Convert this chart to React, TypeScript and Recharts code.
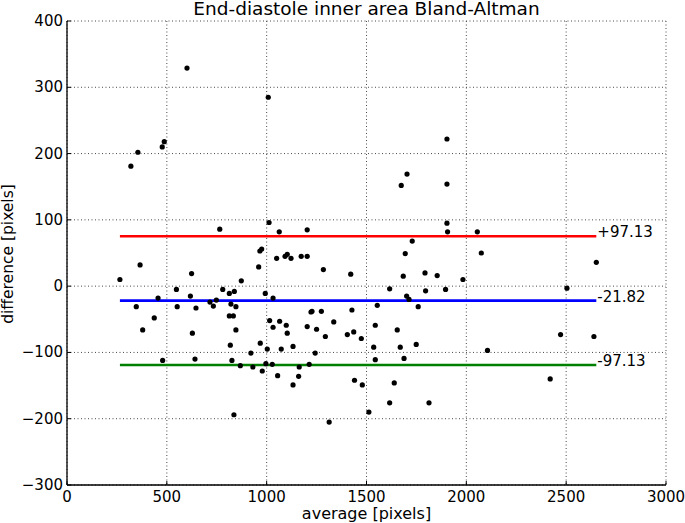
import React from 'react';
import { ScatterChart, Scatter, XAxis, YAxis, CartesianGrid, ReferenceLine } from 'recharts';

// Bland-Altman points: average vs difference, both in pixels
const averagePx = [
  265, 320, 355, 366, 347, 379, 437, 456, 479, 477, 487, 548, 552, 601, 618, 624, 628, 641, 646, 716,
  733, 748, 765, 780, 813, 813, 821, 818, 826, 833, 836, 838, 846, 846, 868, 873, 921, 931, 960, 966,
  975, 968, 978, 993, 996, 1003, 1008, 1012, 1015, 1028, 1032, 1032, 1050, 1055, 1063, 1065, 1073, 1092, 1098, 1103,
  1103, 1122, 1132, 1132, 1160, 1163, 1173, 1203, 1203, 1203, 1213, 1222, 1227, 1243, 1250, 1274, 1284, 1294, 1313, 1336,
  1404, 1421, 1427, 1436, 1440, 1474, 1479, 1512, 1536, 1544, 1544, 1554, 1616, 1616, 1639, 1654, 1669, 1674, 1684, 1688,
  1694, 1701, 1703, 1713, 1729, 1749, 1759, 1793, 1796, 1813, 1854, 1896, 1903, 1903, 1903, 1906, 1983, 2055, 2075, 2106,
  2420, 2472, 2504, 2639, 2651,
];
const differencePx = [
  10, 181, 202, 32, -31, -66, -48, -18, -112, 210, 218, -5, -31, 329, -15, 19, -71, -110, -33, -24,
  -30, -21, 86, -5, -11, -45, -27, -89, -112, -45, -194, -8, -31, -66, -120, 8, -101, -122, 29, 53,
  56, -86, -128, -11, -117, -95, 285, 96, -52, -118, -18, -62, 42, -135, 82, -53, -95, 45, -59, 48,
  -71, 42, -91, -149, -136, -122, 45, 45, 85, -61, -118, -39, -38, -101, -65, -38, 25, -76, -205, -54,
  -73, 18, -36, -69, -142, -79, -149, -190, -92, -59, -111, -29, -4, -176, -146, -66, -92, 152, 15, -109,
  49, -15, 169, -20, 68, -88, -31, 20, -7, -176, 16, -5, 222, 154, 95, 82, 10, 82, 50, -97,
  -140, -73, -3, -76, 36,
];

const xTicks = [0, 500, 1000, 1500, 2000, 2500, 3000];
const yTicks = [-300, -200, -100, 0, 100, 200, 300, 400];

const meanDiff = -21.82;
const upperLimit = 75.31;
const lowerLimit = -118.95;
const upperText = '+97.13';
const meanText = '-21.82';
const lowerText = '-97.13';

const FONT = '"DejaVu Sans", sans-serif';

const points = averagePx.map((a, i) => ({ avg: a, diff: differencePx[i] }));
const xMin = Math.min(...averagePx);
const xMax = Math.max(...averagePx);

const fmt = (v: number) => (v < 0 ? '\u2212' + Math.abs(v) : String(v));

const BottomTick = (props: any) => {
  const { x, y, payload } = props;
  return (
    <g>
      <line x1={x} x2={x} y1={y} y2={y - 4} stroke="#000" />
      <text x={x} y={y + 17} textAnchor="middle" fontSize={15} fontFamily={FONT} fill="#000">
        {fmt(payload.value)}
      </text>
    </g>
  );
};

const LeftTick = (props: any) => {
  const { x, y, payload } = props;
  return (
    <g>
      <line x1={x} x2={x + 4} y1={y} y2={y} stroke="#000" />
      <text x={x - 4} y={y + 5} textAnchor="end" fontSize={15} fontFamily={FONT} fill="#000">
        {fmt(payload.value)}
      </text>
    </g>
  );
};

const TopTick = (props: any) => {
  const { x, y } = props;
  return <line x1={x} x2={x} y1={y} y2={y + 4} stroke="#000" />;
};

const RightTick = (props: any) => {
  const { x, y } = props;
  return <line x1={x} x2={x - 4} y1={y} y2={y} stroke="#000" />;
};

const endLabel = (text: string) => (p: any) => {
  const vb = p.viewBox || {};
  return (
    <text x={(vb.x || 0) + (vb.width || 0) + 1} y={(vb.y || 0) + 1} fontSize={15} fontFamily={FONT} fill="#000">
      {text}
    </text>
  );
};

const Dot = (props: any) => <circle cx={props.cx} cy={props.cy} r={2.6} fill="#000" />;

export default function App() {
  return (
    <div style={{ position: 'absolute', left: 0, top: 0, width: 685, height: 523, background: '#fff', fontFamily: FONT, overflow: 'hidden' }}>
      <ScatterChart width={685} height={523} margin={{ top: 21, right: 19, bottom: 0, left: 0 }} style={{ position: 'absolute', left: 0, top: 0 }}>
        <CartesianGrid stroke="#333" strokeDasharray="1 2.5" strokeWidth={0.9} />
        <XAxis
          type="number" dataKey="avg" domain={[0, 3000]} ticks={xTicks} interval={0} height={38}
          tickSize={0} tickMargin={0} tickLine={false} axisLine={{ stroke: '#000', strokeWidth: 1.3 }} tick={BottomTick}
          allowDataOverflow
        />
        <XAxis
          xAxisId="top" orientation="top" type="number" domain={[0, 3000]} ticks={xTicks} interval={0} height={0}
          tickSize={0} tickMargin={0} tickLine={false} axisLine={{ stroke: '#000', strokeWidth: 1.3 }} tick={TopTick}
          allowDataOverflow
        />
        <YAxis
          type="number" dataKey="diff" domain={[-300, 400]} ticks={yTicks} interval={0} width={67}
          tickSize={0} tickMargin={0} tickLine={false} axisLine={{ stroke: '#000', strokeWidth: 1.3 }} tick={LeftTick}
          allowDataOverflow
        />
        <YAxis
          yAxisId="right" orientation="right" type="number" domain={[-300, 400]} ticks={yTicks} interval={0} width={0}
          tickSize={0} tickMargin={0} tickLine={false} axisLine={{ stroke: '#000', strokeWidth: 1.3 }} tick={RightTick}
          allowDataOverflow
        />
        <ReferenceLine
          segment={[{ x: xMin, y: upperLimit }, { x: xMax, y: upperLimit }]}
          stroke="#ff0000" strokeWidth={2.6} label={endLabel(upperText)}
        />
        <ReferenceLine
          segment={[{ x: xMin, y: meanDiff }, { x: xMax, y: meanDiff }]}
          stroke="#0000ff" strokeWidth={2.6} label={endLabel(meanText)}
        />
        <ReferenceLine
          segment={[{ x: xMin, y: lowerLimit }, { x: xMax, y: lowerLimit }]}
          stroke="#008000" strokeWidth={2.6} label={endLabel(lowerText)}
        />
        <Scatter data={points} fill="#000" shape={Dot} isAnimationActive={false} />
      </ScatterChart>
      <div style={{ position: 'absolute', left: 67, width: 599, top: 0, lineHeight: 1, textAlign: 'center', fontSize: 18.5, color: '#000', whiteSpace: 'nowrap' }}>
        End-diastole inner area Bland-Altman
      </div>
      <div style={{ position: 'absolute', left: 67, width: 599, top: 506, lineHeight: 1, textAlign: 'center', fontSize: 16, color: '#000' }}>
        average [pixels]
      </div>
      <div
        style={{
          position: 'absolute', left: 9, top: 254, fontSize: 15.5, lineHeight: 1, color: '#000', whiteSpace: 'nowrap',
          transform: 'translate(-50%, -50%) rotate(-90deg)',
        }}
      >
        difference [pixels]
      </div>
    </div>
  );
}
